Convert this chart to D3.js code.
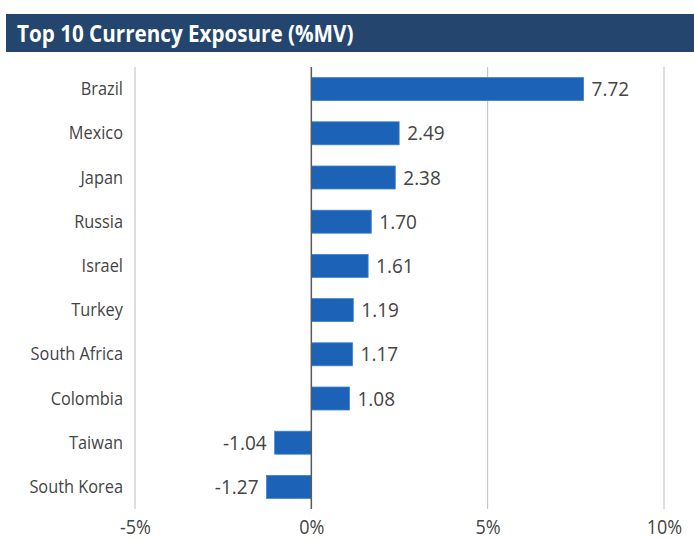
<!DOCTYPE html>
<html>
<head>
<meta charset="utf-8">
<script src="https://cdn.jsdelivr.net/npm/d3@7"></script>
<style>
    body { margin: 0; background: #fff; }
    text { font-family: 'Open Sans', sans-serif; }
</style>
</head>
<body>
<div id="chart"></div>
<script>
// Data
const countries = ['Brazil', 'Mexico', 'Japan', 'Russia', 'Israel', 'Turkey', 'South Africa', 'Colombia', 'Taiwan', 'South Korea'];
const exposure = [7.72, 2.49, 2.38, 1.70, 1.61, 1.19, 1.17, 1.08, -1.04, -1.27];
const xTicks = [-5, 0, 5, 10];
const title = 'Top 10 Currency Exposure (%MV)';

const dataset = countries.map((c, i) => ({ country: c, value: exposure[i] }));

// condensed look: squeeze text horizontally
const squeeze = 0.86;

// Dimensions
let dimensions = {
    width: 694,
    height: 540,
    top: 67,
    bottom: 509,
    left: 135,
    right: 664,
};

const svg = d3.select('#chart')
    .append('svg')
    .attr('width', dimensions.width)
    .attr('height', dimensions.height);

// Title bar
svg.append('rect')
    .attr('x', 6)
    .attr('y', 14)
    .attr('width', dimensions.width - 6)
    .attr('height', 38)
    .attr('fill', '#24466e');

svg.append('text')
    .attr('transform', `translate(17, 42) scale(${squeeze}, 1)`)
    .attr('fill', '#fff')
    .style('font-size', '24px')
    .style('font-weight', 'bold')
    .text(title);

// Scales
const xScale = d3.scaleLinear()
    .domain([-5, 10])
    .range([dimensions.left, dimensions.right]);

const yScale = d3.scaleBand()
    .domain(countries)
    .range([dimensions.top, dimensions.bottom])
    .paddingInner(0.48)
    .paddingOuter(0.24);

// Gridlines
svg.append('g')
    .selectAll('line')
    .data(xTicks.filter(d => d !== 0))
    .join('line')
    .attr('x1', d => xScale(d))
    .attr('x2', d => xScale(d))
    .attr('y1', dimensions.top)
    .attr('y2', dimensions.bottom)
    .attr('stroke', '#bdbdbd')
    .attr('stroke-width', 1);

// Bars
svg.append('g')
    .selectAll('rect')
    .data(dataset)
    .join('rect')
    .attr('x', d => xScale(Math.min(0, d.value)))
    .attr('y', d => yScale(d.country))
    .attr('width', d => Math.abs(xScale(d.value) - xScale(0)))
    .attr('height', yScale.bandwidth())
    .attr('fill', '#1c63b7')
    .attr('stroke', '#3d82d2')
    .attr('stroke-width', 0.8);

// Zero line
svg.append('line')
    .attr('x1', xScale(0))
    .attr('x2', xScale(0))
    .attr('y1', dimensions.top)
    .attr('y2', dimensions.bottom)
    .attr('stroke', '#595959')
    .attr('stroke-width', 1.5);

// Value labels
svg.append('g')
    .selectAll('text')
    .data(dataset)
    .join('text')
    .attr('transform', d => {
        const x = d.value >= 0 ? xScale(d.value) + 8 : xScale(d.value) - 8;
        const y = yScale(d.country) + yScale.bandwidth() / 2;
        return `translate(${x}, ${y}) scale(0.95, 1)`;
    })
    .attr('dy', '0.35em')
    .attr('text-anchor', d => d.value >= 0 ? 'start' : 'end')
    .attr('fill', '#444')
    .style('font-size', '20px')
    .text(d => d.value.toFixed(2));

// Category labels
const yAxis = d3.axisLeft(yScale).tickSize(0).tickPadding(14);
const yAxisGroup = svg.append('g')
    .attr('transform', `translate(${dimensions.left}, 0)`)
    .call(yAxis);
yAxisGroup.select('.domain').remove();
yAxisGroup.selectAll('text')
    .attr('transform', `scale(${squeeze}, 1)`)
    .attr('fill', '#444')
    .style('font-size', '19px')
    .style('font-family', null);

// X axis labels
const xAxis = d3.axisBottom(xScale)
    .tickValues(xTicks)
    .tickSize(0)
    .tickPadding(11)
    .tickFormat(d => `${d}%`);
const xAxisGroup = svg.append('g')
    .attr('transform', `translate(0, ${dimensions.bottom})`)
    .call(xAxis);
xAxisGroup.select('.domain').remove();
xAxisGroup.selectAll('text')
    .attr('transform', `scale(0.9, 1)`)
    .attr('fill', '#444')
    .style('font-size', '20px')
    .style('font-family', null);
</script>
</body>
</html>
